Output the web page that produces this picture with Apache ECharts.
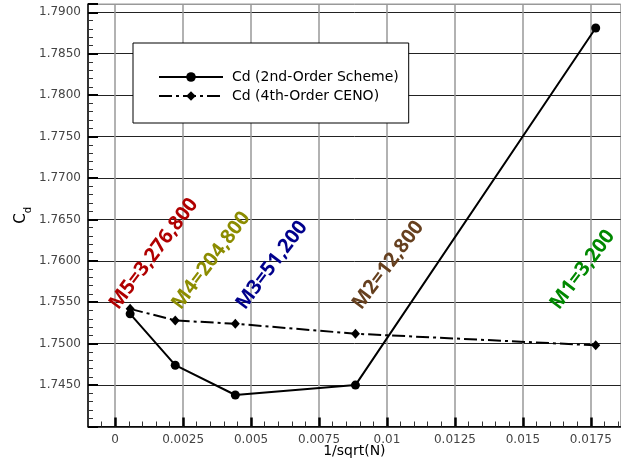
<!DOCTYPE html>
<html>
<head>
<meta charset="utf-8">
<script src="https://cdn.jsdelivr.net/npm/echarts@6/dist/echarts.min.js"></script>
<style>
  html, body { margin: 0; padding: 0; background: #fff; }
  #chart { width: 621px; height: 470px; }
</style>
</head>
<body>
<div id="chart"></div>
<script>
// Grid spacing 1/sqrt(N) for meshes M5 (finest) .. M1 (coarsest)
const meshX = [0.00055, 0.00221, 0.00442, 0.00884, 0.01768];
// Drag coefficient, 2nd-order scheme
const cdSecondOrder = [1.7536, 1.7474, 1.7438, 1.7450, 1.7881];
// Drag coefficient, 4th-order CENO
const cdCeno = [1.7542, 1.7528, 1.7524, 1.7512, 1.7498];

// Mesh annotations (anchored at the start of each rotated label)
const meshNames = ['M5=3,276,800', 'M4=204,800', 'M3=51,200', 'M2=12,800', 'M1=3,200'];
const meshColors = ['#b00000', '#8c8c00', '#00008c', '#66401f', '#008800'];
const meshLabelX = [0.00024, 0.00254, 0.0049, 0.00918, 0.01646];
const meshLabelY = [1.7537, 1.7537, 1.7537, 1.7537, 1.7537];

// Tick labels
const xTickLabels = ['0', '0.0025', '0.005', '0.0075', '0.01', '0.0125', '0.015', '0.0175'];
const yTickLabels = ['1.7450', '1.7500', '1.7550', '1.7600', '1.7650', '1.7700',
                     '1.7750', '1.7800', '1.7850', '1.7900'];

const seriesNames = ['Cd (2nd-Order Scheme)', 'Cd (4th-Order CENO)'];

const X_MIN = -0.001, X_MAX = 0.0186, X_STEP = 0.0005;
const Y_MIN = 1.74, Y_MAX = 1.791, Y_STEP = 0.005;

const tickFont = { fontFamily: 'DejaVu Sans', fontSize: 12, color: '#444' };

// x ticks run every 0.0005 from -0.001; every fifth one (0, 0.0025, ...) is a major tick
const none = 'rgba(0,0,0,0)';
const xGridColors = [none, none, '#999', none, none];
const xMajorColors = [none, none, '#000', none, none];
// y grid: one line per 0.005 from 1.740, then the top edge at 1.791
const yGridColors = Array.from({ length: 11 }, () => '#222').concat(['#999']);

const chart = echarts.init(document.getElementById('chart'), null, { renderer: 'canvas' });

chart.setOption({
  animation: false,
  backgroundColor: '#fff',
  grid: [
    {
      left: 88, right: 0, top: 4, bottom: 43.5,
      containLabel: false,
      show: true, borderColor: '#999', borderWidth: 1, backgroundColor: 'transparent'
    },
    // thin strip along the bottom edge carrying the long x major ticks
    { left: 88, right: 0, top: 417.5, bottom: 43.5, containLabel: false, show: false }
  ],
  legend: {
    data: seriesNames,
    orient: 'vertical',
    left: 133, top: 43,
    backgroundColor: '#fff',
    borderColor: '#000', borderWidth: 1, borderRadius: 0,
    padding: [27, 10, 20, 25],
    itemWidth: 64, itemHeight: 12, itemGap: 5,
    textStyle: { fontFamily: 'DejaVu Sans', fontSize: 14, color: '#000', padding: [0, 0, 0, 4] }
  },
  xAxis: [
    {
      type: 'value', gridIndex: 0,
      min: X_MIN, max: X_MAX, interval: X_STEP,
      name: '1/sqrt(N)', nameLocation: 'middle', nameGap: 17.5, nameMoveOverlap: false,
      nameTextStyle: { fontFamily: 'DejaVu Sans', fontSize: 14, color: '#000' },
      axisLine: { show: true, onZero: false, lineStyle: { color: '#000', width: 1.5 } },
      axisTick: { show: true, inside: true, length: 5, lineStyle: { color: '#333', width: 1 } },
      axisLabel: Object.assign({
        showMinLabel: false, showMaxLabel: false, margin: 7,
        formatter: v => {
          const s = String(+v.toFixed(4));
          return xTickLabels.includes(s) ? s : '';
        }
      }, tickFont),
      splitLine: { show: true, lineStyle: { color: xGridColors, width: 1.5 } }
    },
    {
      type: 'value', gridIndex: 1, z: 3,
      min: X_MIN, max: X_MAX, interval: X_STEP,
      axisLine: { show: false },
      axisTick: { show: false },
      axisLabel: { show: false },
      splitLine: { show: true, lineStyle: { color: xMajorColors, width: 2.5 } }
    }
  ],
  yAxis: [
    {
      type: 'value', gridIndex: 0,
      min: Y_MIN, max: Y_MAX, interval: Y_STEP,
      name: '{c|C}{d|d}', nameLocation: 'middle', nameGap: 55, nameRotate: 90, nameMoveOverlap: false,
      nameTextStyle: {
        color: '#000',
        rich: {
          c: { fontFamily: 'DejaVu Sans', fontSize: 15, color: '#000', padding: [0, 0, 4, 0], verticalAlign: 'bottom' },
          d: { fontFamily: 'DejaVu Sans', fontSize: 10, color: '#000', verticalAlign: 'bottom' }
        }
      },
      axisLine: { show: true, onZero: false, lineStyle: { color: '#000', width: 1.5 } },
      axisTick: { show: true, inside: true, length: 10, lineStyle: { color: '#000', width: 2 } },
      minorTick: { show: true, splitNumber: 5, length: 5, lineStyle: { color: '#333', width: 1 } },
      axisLabel: Object.assign({
        showMinLabel: false, showMaxLabel: false, margin: 7,
        formatter: v => {
          const s = v.toFixed(4);
          return yTickLabels.includes(s) ? s : '';
        }
      }, tickFont),
      splitLine: { show: true, lineStyle: { color: yGridColors, width: 1 } }
    },
    {
      type: 'value', gridIndex: 1, min: 0, max: 1,
      axisLine: { show: false }, axisTick: { show: false },
      axisLabel: { show: false }, splitLine: { show: false }
    }
  ],
  series: [
    {
      name: seriesNames[0],
      type: 'line',
      data: meshX.map((x, i) => [x, cdSecondOrder[i]]),
      symbol: 'circle', symbolSize: 9,
      lineStyle: { color: '#000', width: 2 },
      itemStyle: { color: '#000' },
      emphasis: { disabled: true },
      z: 5
    },
    {
      name: seriesNames[1],
      type: 'line',
      data: meshX.map((x, i) => [x, cdCeno[i]]),
      symbol: 'diamond', symbolSize: [9, 10],
      lineStyle: { color: '#000', width: 2, type: [13, 4, 3, 4] },
      itemStyle: { color: '#000' },
      emphasis: { disabled: true },
      z: 5
    },
    {
      type: 'scatter',
      silent: true,
      symbolSize: 1,
      itemStyle: { color: none, opacity: 1 },
      data: meshNames.map((n, i) => ({
        name: n,
        value: [meshLabelX[i], meshLabelY[i]],
        label: { color: meshColors[i] }
      })),
      label: {
        show: true,
        position: 'inside',
        formatter: p => p.name,
        rotate: 53,
        align: 'left',
        verticalAlign: 'bottom',
        opacity: 1,
        fontFamily: 'Noto Sans',
        fontWeight: 'bold',
        fontSize: 20
      },
      z: 6
    },
    {
      // invisible companion series so the tick strip's axes are laid out
      type: 'line',
      xAxisIndex: 1, yAxisIndex: 1,
      data: meshX.map(x => [x, 0.5]),
      symbol: 'none',
      lineStyle: { opacity: 0 },
      silent: true,
      emphasis: { disabled: true }
    }
  ]
});
</script>
</body>
</html>
